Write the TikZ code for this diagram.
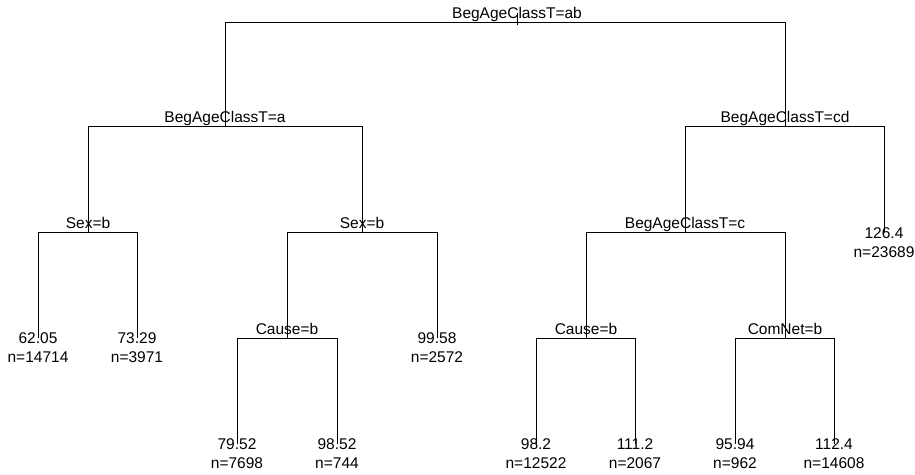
\documentclass[tikz,border=0pt]{standalone}
\usepackage{fontspec}
\setmainfont{Liberation Sans}
\usepackage{tikz}
\usetikzlibrary{positioning}
\tikzset{
split label/.style = { draw = none, fill = none, inner sep = 0pt, anchor = base, font = \fontsize{15.5}{19}\selectfont },
leaf label/.style = { draw = none, fill = none, inner sep = 0pt, anchor = north, align = center, font = \fontsize{15.5}{19}\selectfont },
branch/.style = { draw = black, line width = 0.8pt },
}

\begin{document}
\begin{tikzpicture}[x=1pt, y=-1pt]
    \useasboundingbox (0,0) rectangle (915,474);
    \begin{scope}
      % split points
      \coordinate (ab) at (517,22);
      \coordinate (a) at (225,126);
      \coordinate (cd) at (785,126);
      \coordinate (sexl) at (88,232);
      \coordinate (sexr) at (362,232);
      \coordinate (c) at (685,232);
      \coordinate (causel) at (287,338);
      \coordinate (causer) at (586,338);
      \coordinate (comnet) at (785,338);
      % leaves
      \coordinate (l1) at (38,338);
      \coordinate (l2) at (137,338);
      \coordinate (l3) at (237,444);
      \coordinate (l4) at (337,444);
      \coordinate (l5) at (437,338);
      \coordinate (l6) at (536,444);
      \coordinate (l7) at (635,444);
      \coordinate (l8) at (735,444);
      \coordinate (l9) at (834,444);
      \coordinate (l10) at (884,232);
      \coordinate (stub) at (517,13);
      \coordinate (stubend) at (517,25);
    \end{scope}
    \begin{scope}[every path/.style={branch}]
      \path (stub) edge (stubend);
      \draw (ab) -| (a);
      \draw (ab) -| (cd);
      \draw (a) -| (sexl);
      \draw (a) -| (sexr);
      \draw (sexl) -| (l1);
      \draw (sexl) -| (l2);
      \draw (sexr) -| (causel);
      \draw (sexr) -| (l5);
      \draw (causel) -| (l3);
      \draw (causel) -| (l4);
      \draw (cd) -| (c);
      \draw (cd) -| (l10);
      \draw (c) -| (causer);
      \draw (c) -| (comnet);
      \draw (causer) -| (l6);
      \draw (causer) -| (l7);
      \draw (comnet) -| (l8);
      \draw (comnet) -| (l9);
    \end{scope}
    \begin{scope}
      \node[split label] (ab lab) at ([yshift=4pt]ab) {BegAgeClassT=ab};
      \node[split label] (a lab) at ([yshift=4pt]a) {BegAgeClassT=a};
      \node[split label] (cd lab) at ([yshift=4pt]cd) {BegAgeClassT=cd};
      \node[split label] (sexl lab) at ([yshift=4pt]sexl) {Sex=b};
      \node[split label] (sexr lab) at ([yshift=4pt]sexr) {Sex=b};
      \node[split label] (c lab) at ([yshift=4pt]c) {BegAgeClassT=c};
      \node[split label] (causel lab) at ([yshift=4pt]causel) {Cause=b};
      \node[split label] (causer lab) at ([yshift=4pt]causer) {Cause=b};
      \node[split label] (comnet lab) at ([yshift=4pt]comnet) {ComNet=b};
    \end{scope}
    \begin{scope}
      \node[leaf label] (l1 lab) at ([yshift=6pt]l1) {62.05\\n=14714};
      \node[leaf label] (l2 lab) at ([yshift=6pt]l2) {73.29\\n=3971};
      \node[leaf label] (l3 lab) at ([yshift=6pt]l3) {79.52\\n=7698};
      \node[leaf label] (l4 lab) at ([yshift=6pt]l4) {98.52\\n=744};
      \node[leaf label] (l5 lab) at ([yshift=6pt]l5) {99.58\\n=2572};
      \node[leaf label] (l6 lab) at ([yshift=6pt]l6) {98.2\\n=12522};
      \node[leaf label] (l7 lab) at ([yshift=6pt]l7) {111.2\\n=2067};
      \node[leaf label] (l8 lab) at ([yshift=6pt]l8) {95.94\\n=962};
      \node[leaf label] (l9 lab) at ([yshift=6pt]l9) {112.4\\n=14608};
      \node[leaf label] (l10 lab) at ([yshift=5pt]l10) {126.4\\n=23689};
    \end{scope}
  \end{tikzpicture}
\end{document}
